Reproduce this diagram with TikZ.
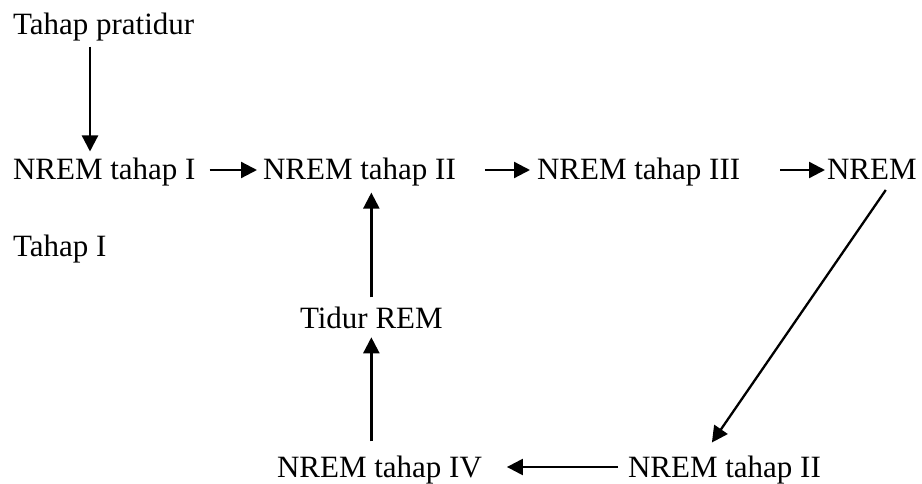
\documentclass[tikz,border=0pt]{standalone}
\usepackage{fontspec}
\setmainfont{Liberation Serif}
\usetikzlibrary{arrows.meta,calc}
\tikzset{
  lbl/.style={anchor=base west, inner sep=0pt, outer sep=0pt, font=\fontsize{31}{36}\selectfont},
  arr/.style={line width=2.3pt, -{Triangle[length=16pt,width=16pt]}}
}
\begin{document}
\begin{tikzpicture}[x=1pt,y=-1pt]
\useasboundingbox (0,0) rectangle (922,484);
\node[lbl] (pre) at (13,35) {Tahap pratidur};
\node[lbl] (n1) at (13,180) {NREM tahap I};
\node[lbl] (n2) at (263,180) {NREM tahap II};
\node[lbl] (n3) at (537,180) {NREM tahap III};
\node[lbl] (n4) at (827,180) {NREM};
\node[lbl] (t1) at (13,257) {Tahap I};
\node[lbl] (rem) at (300,328) {Tidur REM};
\node[lbl] (n4b) at (277,477) {NREM tahap IV};
\node[lbl] (n2b) at (628,477) {NREM tahap II};
% arrows
\draw[arr] ([xshift=77pt,yshift=-5pt]pre.south west) -- ([xshift=77pt,yshift=7pt]n1.north west);
\draw[arr] ([xshift=14pt,yshift=10pt]n1.base east) -- ([xshift=-6pt,yshift=10pt]n2.base west);
\draw[arr] ([xshift=29pt,yshift=10pt]n2.base east) -- ([xshift=-7pt,yshift=10pt]n3.base west);
\draw[arr] ([xshift=40pt,yshift=10pt]n3.base east) -- ([xshift=-2pt,yshift=10pt]n4.base west);
\draw[arr] ([xshift=14pt,yshift=-10pt]n4.south) -- ([xshift=-12.5pt,yshift=13pt]n2b.north);
\draw[arr] ([xshift=-10pt,yshift=10pt]n2b.base west) -- ([xshift=25pt,yshift=10pt]n4b.base east);
\draw[arr] ([yshift=14pt]rem.south |- n4b.north) -- ([yshift=-9pt]rem.south);
\draw[arr] ([yshift=9pt]rem.north) -- ([yshift=-6pt]rem.north |- n2.south);
\end{tikzpicture}
\end{document}
